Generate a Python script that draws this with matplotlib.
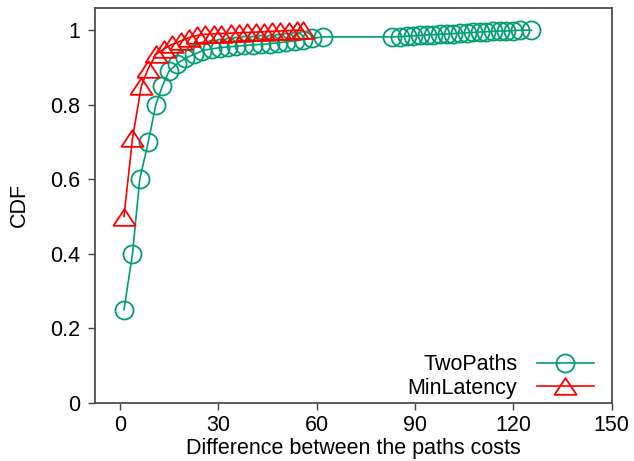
import matplotlib.pyplot as plt
import numpy as np

plt.rcParams['font.family'] = ['Liberation Sans', 'DejaVu Sans']

# TwoPaths (green circles)
two_x = [1.3, 3.9, 6.1, 8.7, 11, 13, 15, 17.5, 20, 22.6, 25.2, 28, 30.5, 33, 35.6,
         38, 40.6, 43.2, 45.7, 48.2, 50.8, 53.4, 56, 58.5, 62,
         83, 85.5, 87.5, 89.5, 91.6, 93.6, 95.6, 97.6, 99.7, 101.7, 103.7, 105.8,
         107.8, 109.8, 111.8, 113.9, 115.9, 117.9, 120, 122, 125.5]
two_y = [0.25, 0.40, 0.60, 0.70, 0.80, 0.85, 0.89, 0.91, 0.925, 0.935, 0.945, 0.95, 0.953, 0.955, 0.957,
         0.959, 0.961, 0.962, 0.964, 0.966, 0.969, 0.971, 0.975, 0.978, 0.982,
         0.982, 0.983, 0.984, 0.985, 0.986, 0.987, 0.988, 0.989, 0.99, 0.991, 0.992, 0.993,
         0.994, 0.995, 0.996, 0.997, 0.998, 0.998, 0.999, 1.0, 1.0]

# MinLatency (red triangles)
min_x = [1.3, 3.9, 6.6, 8.6, 11, 13.5, 16, 18.6, 21, 23.6, 26, 28.7, 31, 33.8,
         36.3, 38.8, 41.4, 44, 46.4, 49, 51.5, 54, 56]
min_y = [0.50, 0.71, 0.85, 0.895, 0.935, 0.95, 0.962, 0.971, 0.98, 0.986, 0.989, 0.99, 0.991, 0.992,
         0.993, 0.994, 0.995, 0.996, 0.997, 0.998, 0.999, 1.0, 1.0]

x_ticks = [0, 30, 60, 90, 120, 150]
y_ticks = [0, 0.2, 0.4, 0.6, 0.8, 1]
y_tick_labels = ["0", "0.2", "0.4", "0.6", "0.8", "1"]

green = "#009e73"
red = "#ff0000"
tri = [(-1, -0.75), (1, -0.75), (0, 0.75), (-1, -0.75)]

fig = plt.figure(figsize=(6.34, 4.61), dpi=100)
ax = fig.add_axes([0.150, 0.126, 0.815, 0.857])

ax.plot(two_x, two_y, color=green, lw=1.2, marker='o', ms=13, mfc='none',
        mec=green, mew=1.3, label="TwoPaths")
ax.plot(min_x, min_y, color=red, lw=1.2, marker=tri, ms=16, mfc='none',
        mec=red, mew=1.3, label="MinLatency")

ax.set_xlim(-7.5, 150)
ax.set_ylim(0, 1.06)
ax.set_xticks(x_ticks)
ax.set_yticks(y_ticks)
ax.set_yticklabels(y_tick_labels)
ax.tick_params(direction='out', length=5, width=1, color='#404040',
               labelsize=15.5)
ax.tick_params(axis='x', pad=4)
ax.tick_params(axis='y', pad=6)
for s in ax.spines.values():
    s.set_color('#4d4d4d')
    s.set_linewidth(1.3)

ax.set_xlabel("Difference between the paths costs", fontsize=15.5, labelpad=1)
ax.set_ylabel("CDF", fontsize=15.5, labelpad=14)

ax.legend(loc='lower right', bbox_to_anchor=(0.965, 0.010), frameon=False,
          markerfirst=False, fontsize=15.5, borderpad=0, handlelength=2.65,
          handletextpad=0.9, labelspacing=0.12, borderaxespad=0)

plt.savefig("out.png", dpi=100)
